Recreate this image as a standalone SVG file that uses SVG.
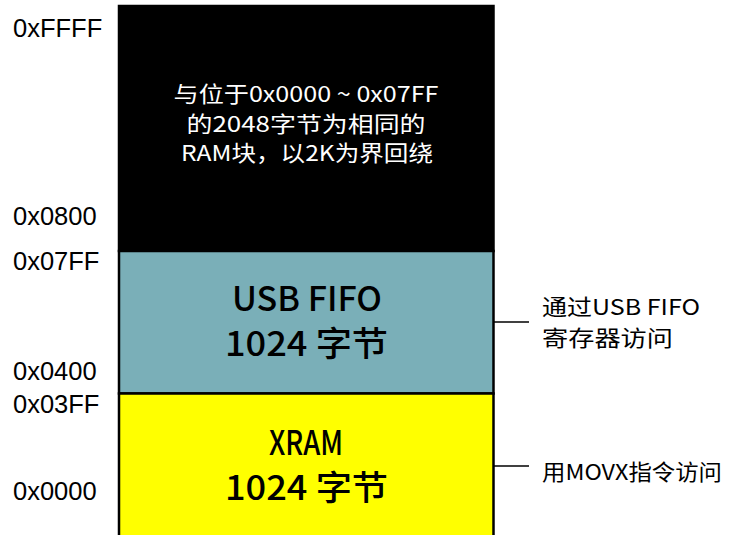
<svg xmlns="http://www.w3.org/2000/svg" width="729" height="535" viewBox="0 0 729 535">
<style>
.addr{font-family:"Liberation Sans",Arial,sans-serif;font-size:25.5px;fill:#000}
.cjk{font-family:"Noto Sans CJK SC","Noto Sans",sans-serif}
.big{font-size:34px;font-weight:500;fill:#000}
.blk{stroke:#000;stroke-width:2.5}
.conn{stroke:#000;stroke-width:1.5;fill:none}
</style>
<rect x="0" y="0" width="729" height="535" fill="#fff"/>
<g id="block-high">
<rect class="blk" x="119" y="6" width="374.5" height="245" fill="#000"/>
<g class="cjk" fill="#fff" font-size="22" text-anchor="middle">
<text x="306" y="102" textLength="265" lengthAdjust="spacingAndGlyphs">与位于0x0000 ~ 0x07FF</text>
<text x="306" y="132" textLength="239" lengthAdjust="spacingAndGlyphs">的2048字节为相同的</text>
<text x="307" y="161" textLength="252" lengthAdjust="spacingAndGlyphs">RAM块，以2K为界回绕</text>
</g>
</g>
<g id="block-usb">
<rect class="blk" x="119" y="251" width="374.5" height="142.5" fill="#7aafb8"/>
<g class="cjk big" text-anchor="middle">
<text x="307" y="311" textLength="150" lengthAdjust="spacingAndGlyphs">USB FIFO</text>
<text x="306.5" y="356" textLength="163" lengthAdjust="spacingAndGlyphs">1024 字节</text>
</g>
</g>
<g id="block-xram">
<rect class="blk" x="119" y="393.5" width="374.5" height="145" fill="#ffff00"/>
<g class="cjk big" text-anchor="middle">
<text x="306" y="455" textLength="74" lengthAdjust="spacingAndGlyphs">XRAM</text>
<text x="306.5" y="500" textLength="163" lengthAdjust="spacingAndGlyphs">1024 字节</text>
</g>
</g>
<g id="addresses">
<text class="addr" x="13" y="37">0xFFFF</text>
<text class="addr" x="13" y="225">0x0800</text>
<text class="addr" x="13" y="270">0x07FF</text>
<text class="addr" x="13" y="380">0x0400</text>
<text class="addr" x="13" y="413">0x03FF</text>
<text class="addr" x="13" y="500">0x0000</text>
</g>
<g id="connectors">
<line class="conn" x1="494" y1="322" x2="529" y2="322"/>
<line class="conn" x1="494" y1="466" x2="529" y2="466"/>
</g>
<g id="note-usb" class="cjk" fill="#000" font-size="22">
<text x="542" y="315" textLength="158" lengthAdjust="spacingAndGlyphs">通过USB FIFO</text>
<text x="542" y="346" textLength="131" lengthAdjust="spacingAndGlyphs">寄存器访问</text>
</g>
<g id="note-xram" class="cjk" fill="#000" font-size="22">
<text x="542" y="480" textLength="180" lengthAdjust="spacingAndGlyphs">用MOVX指令访问</text>
</g>
</svg>
